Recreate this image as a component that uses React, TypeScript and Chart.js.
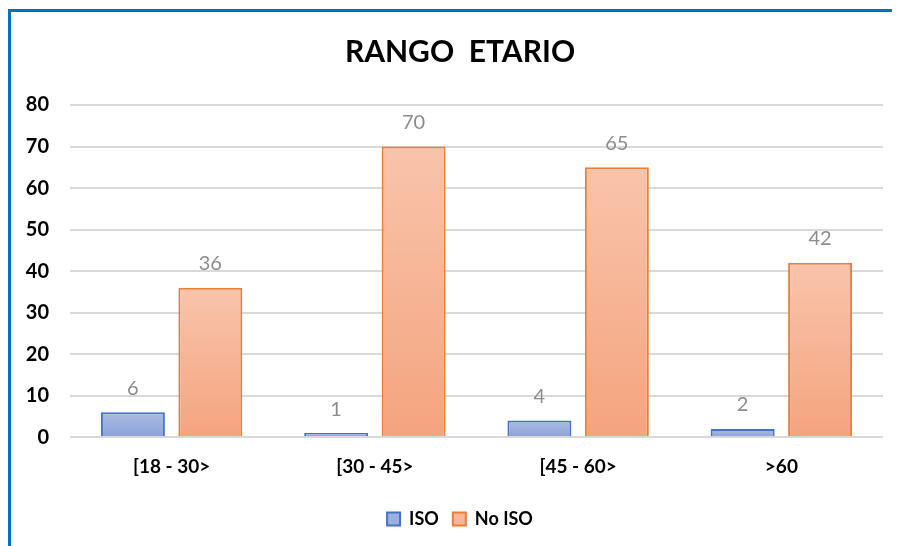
import React, { useEffect, useRef } from "react";
import { Chart, registerables } from "chart.js";

Chart.register(...registerables);

const categories = ["[18 - 30>", "[30 - 45>", "[45 - 60>", ">60"];
const isoValues = [6, 1, 4, 2];
const noIsoValues = [36, 70, 65, 42];
const yTicks = [0, 10, 20, 30, 40, 50, 60, 70, 80];
const titleText = "RANGO  ETARIO";
const seriesNames = ["ISO", "No ISO"];

const FONT = "Lato, 'Open Sans', sans-serif";

function gradFill(top: string, bottom: string) {
  return (ctx: any) => {
    const chart = ctx.chart;
    const area = chart.chartArea;
    if (!area || ctx.type !== "data") return top;
    const y = chart.scales.y;
    const v = ctx.raw as number;
    const y0 = y.getPixelForValue(v);
    const y1 = y.getPixelForValue(0);
    const g = chart.ctx.createLinearGradient(0, y0, 0, Math.max(y1, y0 + 1));
    g.addColorStop(0, top);
    g.addColorStop(1, bottom);
    return g;
  };
}

const valueLabels = {
  id: "valueLabels",
  afterDatasetsDraw(chart: any) {
    const ctx = chart.ctx;
    ctx.save();
    ctx.font = `20px ${FONT}`;
    ctx.fillStyle = "#8C8C8C";
    ctx.textAlign = "center";
    ctx.textBaseline = "middle";
    chart.data.datasets.forEach((ds: any, i: number) => {
      const meta = chart.getDatasetMeta(i);
      meta.data.forEach((bar: any, j: number) => {
        ctx.fillText(String(ds.data[j]), bar.x, bar.y - 24);
      });
    });
    ctx.restore();
  },
};

// widen the y-axis label clip region so tick labels left of the axis box stay visible
const unclipY = {
  id: "unclipY",
  afterLayout(chart: any) {
    const y = chart.scales.y;
    if (y) y.left = 0;
  },
};

export default function App() {
  const ref = useRef<HTMLCanvasElement>(null);
  useEffect(() => {
    if (!ref.current) return;
    const chart = new Chart(ref.current, {
      type: "bar",
      data: {
        labels: categories,
        datasets: [
          {
            label: seriesNames[0],
            data: isoValues,
            backgroundColor: gradFill("#ADBBE3", "#8AA2D8"),
            borderColor: "#4472C4",
            borderWidth: 2,
            categoryPercentage: 0.762,
            barPercentage: 0.826,
          },
          {
            label: seriesNames[1],
            data: noIsoValues,
            backgroundColor: gradFill("#F9C4AB", "#F4A47E"),
            borderColor: "#ED7D31",
            borderWidth: 2,
            categoryPercentage: 0.762,
            barPercentage: 0.826,
          },
        ],
      },
      options: {
        responsive: false,
        animation: false,
        layout: { padding: { left: 26, right: 17, top: 0, bottom: 8 } },
        plugins: {
          title: {
            display: true,
            text: titleText,
            color: "#000000",
            font: { family: FONT, size: 30, weight: "bold" },
            padding: { top: 22.5, bottom: 34.5 },
          },
          legend: {
            position: "bottom",
            labels: {
              color: "#000000",
              font: { family: FONT, size: 18, weight: "bold" },
              boxWidth: 13,
              boxHeight: 13,
              padding: 14,
              generateLabels: (c: any) =>
                c.data.datasets.map((ds: any, i: number) => ({
                  text: ds.label,
                  fillStyle: i === 0 ? "#9DAFDF" : "#F7B698",
                  strokeStyle: ds.borderColor,
                  lineWidth: 2,
                  hidden: false,
                  datasetIndex: i,
                  fontColor: "#000000",
                })),
            },
          },
          tooltip: { enabled: false },
        },
        scales: {
          x: {
            grid: { display: false, drawTicks: false },
            border: { display: false },
            ticks: {
              color: "#000000",
              font: { family: FONT, size: 19, weight: "bold" },
              padding: 18,
            },
          },
          y: {
            min: 0,
            max: 80,
            afterBuildTicks: (s: any) => {
              s.ticks = yTicks.map((v) => ({ value: v }));
            },
            afterFit: (s: any) => {
              s.width = 33;
            },
            grid: { color: "#D9D9D9", lineWidth: 2, drawTicks: false },
            border: { display: false },
            ticks: {
              color: "#000000",
              font: { family: FONT, size: 20, weight: "bold" },
              padding: 21,
            },
          },
        },
      },
      plugins: [valueLabels, unclipY],
    });
    return () => chart.destroy();
  }, []);
  return (
    <div
      style={{
        marginTop: 1,
        borderLeft: "3px solid #0070C0",
        borderTop: "3px solid #0070C0",
        width: 889,
        height: 534,
        background: "#fff",
      }}
    >
      <canvas ref={ref} width={889} height={534} style={{ display: "block" }} />
    </div>
  );
}
